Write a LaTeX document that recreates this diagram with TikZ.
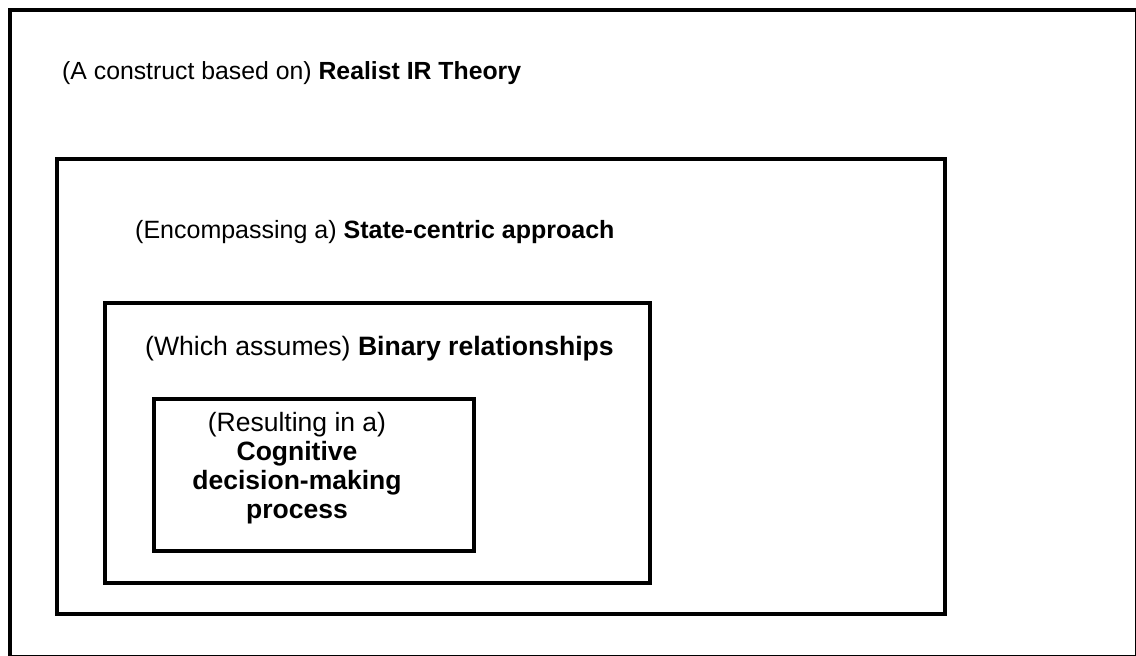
\documentclass[tikz,border=0pt]{standalone}
\usepackage{fontspec}
\setmainfont{Liberation Sans}
\begin{document}
\begin{tikzpicture}[x=1pt,y=-1pt,
  frame/.style={draw=black,line width=4pt,rectangle,inner sep=0pt},
  lbl/.style={anchor=base west,inner sep=0pt,font=\fontsize{25}{30}\selectfont},
  clbl/.style={align=center,inner sep=0pt,font=\fontsize{26.5}{29}\selectfont}]
\useasboundingbox[fill=white] (0,0) rectangle (1136,656);
\draw[line width=4pt] (10,10) rectangle (1137,657);
\node[frame,minimum width=888pt,minimum height=455pt] (state) at (501,386.5) {};
\node[frame,minimum width=545pt,minimum height=279.5pt] (binary) at (377.5,442.75) {};
\node[frame,minimum width=320pt,minimum height=152pt] (cog) at (313.5,475) {};
\node[lbl,font=\fontsize{24.8}{30}\selectfont] (t1) at (62,79) {(A construct based on) \textbf{Realist IR Theory}};
\node[lbl] (t2) at (135,238) {(Encompassing a) \textbf{State-centric approach}};
\node[lbl,font=\fontsize{26.6}{30}\selectfont] (t3) at (145,355) {(Which assumes) \textbf{Binary relationships}};
\node[clbl,anchor=base] (t4) at (297,518) {(Resulting in a)\\\textbf{Cognitive}\\\textbf{decision-making}\\\textbf{process}};
\end{tikzpicture}
\end{document}
